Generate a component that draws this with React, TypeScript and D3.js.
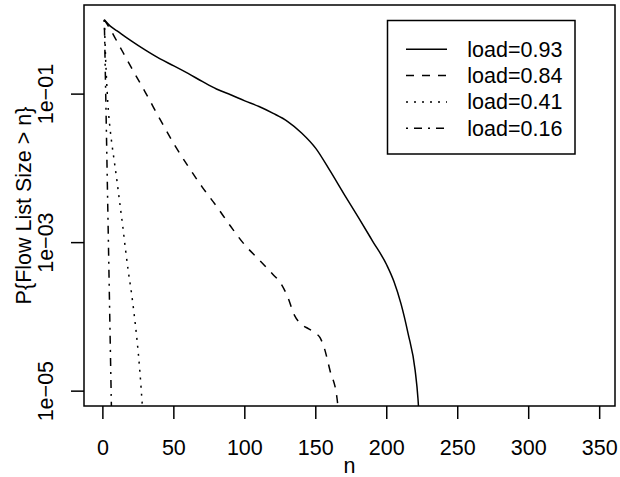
import React, { useEffect, useRef } from 'react';
import * as d3 from 'd3';

// P{Flow List Size > n}, one array pair per load
const n093 = [1, 5, 10, 20, 30, 40, 50, 60, 70, 80, 90, 100, 110, 120, 130, 140, 150, 160, 170, 180, 190, 200, 205, 210, 215, 220, 222, 223.5];
const p093 = [1.0, 0.83, 0.71, 0.52, 0.39, 0.30, 0.24, 0.19, 0.148, 0.117, 0.098, 0.081, 0.068, 0.055, 0.043, 0.030, 0.0186, 0.0093, 0.00447, 0.00219, 0.00105, 0.0005, 0.000302, 0.000151, 0.00006, 0.000019, 0.0000079, 0.0000025];

const n084 = [1, 5, 10, 20, 30, 40, 50, 60, 70, 80, 90, 100, 110, 120, 125, 130, 135, 140, 145, 150, 153, 156, 160, 165, 167];
const p084 = [1.0, 0.76, 0.51, 0.229, 0.105, 0.0468, 0.0214, 0.0107, 0.0056, 0.0031, 0.00166, 0.00093, 0.00059, 0.00037, 0.00029, 0.00019, 0.000105, 0.000079, 0.000069, 0.00006, 0.0000525, 0.000038, 0.000019, 0.0000079, 0.0000032];

const n041 = [1, 2, 3, 4, 5, 6, 8, 10, 12, 14, 16, 18, 20, 22, 24, 26, 28];
const p041 = [1.0, 0.28, 0.11, 0.056, 0.035, 0.024, 0.0126, 0.0066, 0.0033, 0.00166, 0.00079, 0.0004, 0.00022, 0.00011, 0.00005, 0.000019, 0.0000056];

const n016 = [1, 2, 3, 4, 5, 6, 7];
const p016 = [1.0, 0.1, 0.0089, 0.00079, 0.00007, 0.0000063, 0.0000006];

const legendLabels = ['load=0.93', 'load=0.84', 'load=0.41', 'load=0.16'];
const dashes = [null, '8,8', '2,6', '2,6,8,6'];
const xTicks = [0, 50, 100, 150, 200, 250, 300, 350];
const yTicks = [1e-5, 1e-3, 1e-1];
const yTickLabels = ['1e\u221205', '1e\u221203', '1e\u221201'];

const FONT = '"Liberation Sans", Arial, Helvetica, sans-serif';

const App = () => {
  const ref = useRef(null);

  useEffect(() => {
    const width = 620;
    const height = 477;
    const box = { left: 84, right: 615, top: 5, bottom: 406 };

    const svg = d3.select(ref.current)
      .attr('width', width)
      .attr('height', height);
    svg.selectAll('*').remove();

    const x = d3.scaleLinear()
      .domain([-13.3, 360.8])
      .range([box.left, box.right]);

    const y = d3.scaleLog()
      .domain([Math.pow(10, -5.2), Math.pow(10, 0.2)])
      .range([box.bottom, box.top]);

    svg.append('defs').append('clipPath')
      .attr('id', 'plotclip')
      .append('rect')
      .attr('x', box.left)
      .attr('y', box.top)
      .attr('width', box.right - box.left)
      .attr('height', box.bottom - box.top);

    const line = d3.line()
      .x(d => x(d[0]))
      .y(d => y(d[1]))
      .curve(d3.curveMonotoneX);

    const series = [
      d3.zip(n093, p093),
      d3.zip(n084, p084),
      d3.zip(n041, p041),
      d3.zip(n016, p016),
    ];

    const lines = svg.append('g').attr('clip-path', 'url(#plotclip)');
    series.forEach((s, i) => {
      lines.append('path')
        .datum(s)
        .attr('fill', 'none')
        .attr('stroke', 'black')
        .attr('stroke-width', 1.5)
        .attr('stroke-dasharray', dashes[i])
        .attr('d', line);
    });

    // plot box
    svg.append('rect')
      .attr('x', box.left)
      .attr('y', box.top)
      .attr('width', box.right - box.left)
      .attr('height', box.bottom - box.top)
      .attr('fill', 'none')
      .attr('stroke', 'black')
      .attr('stroke-width', 1.5);

    // x axis
    const xa = svg.append('g');
    xa.selectAll('line')
      .data(xTicks)
      .enter()
      .append('line')
      .attr('x1', d => x(d))
      .attr('x2', d => x(d))
      .attr('y1', box.bottom)
      .attr('y2', box.bottom + 13)
      .attr('stroke', 'black')
      .attr('stroke-width', 1.5);
    xa.selectAll('text')
      .data(xTicks)
      .enter()
      .append('text')
      .attr('x', d => x(d))
      .attr('y', 455)
      .attr('text-anchor', 'middle')
      .attr('font-family', FONT)
      .attr('font-size', 21.5)
      .text(d => d);

    // y axis
    const ya = svg.append('g');
    ya.selectAll('line')
      .data(yTicks)
      .enter()
      .append('line')
      .attr('x1', box.left)
      .attr('x2', box.left - 13)
      .attr('y1', d => y(d))
      .attr('y2', d => y(d))
      .attr('stroke', 'black')
      .attr('stroke-width', 1.5);
    ya.selectAll('text')
      .data(yTicks)
      .enter()
      .append('text')
      .attr('transform', d => `translate(53,${y(d)}) rotate(-90)`)
      .attr('text-anchor', 'middle')
      .attr('font-family', FONT)
      .attr('font-size', 21.5)
      .text((d, i) => yTickLabels[i]);

    // axis titles
    svg.append('text')
      .attr('x', (box.left + box.right) / 2)
      .attr('y', 473)
      .attr('text-anchor', 'middle')
      .attr('font-family', FONT)
      .attr('font-size', 21.5)
      .text('n');

    svg.append('text')
      .attr('transform', `translate(31,${(box.top + box.bottom) / 2}) rotate(-90)`)
      .attr('text-anchor', 'middle')
      .attr('font-family', FONT)
      .attr('font-size', 21.5)
      .text('P{Flow List Size > n}');

    // legend
    const lg = svg.append('g');
    lg.append('rect')
      .attr('x', 387.5)
      .attr('y', 20.5)
      .attr('width', 187.5)
      .attr('height', 133.5)
      .attr('fill', 'white')
      .attr('stroke', 'black')
      .attr('stroke-width', 1.5);

    legendLabels.forEach((lab, i) => {
      const base = 56.7 + i * 26.3;
      lg.append('line')
        .attr('x1', 406)
        .attr('x2', 447)
        .attr('y1', base - 7.4)
        .attr('y2', base - 7.4)
        .attr('stroke', 'black')
        .attr('stroke-width', 1.5)
        .attr('stroke-dasharray', dashes[i]);
      lg.append('text')
        .attr('x', 467.3)
        .attr('y', base)
        .attr('font-family', FONT)
        .attr('font-size', 21.5)
        .text(lab);
    });
  }, []);

  return (
    <svg ref={ref} style={{ position: 'absolute', left: 0, top: 0 }}></svg>
  );
};

export default App;
